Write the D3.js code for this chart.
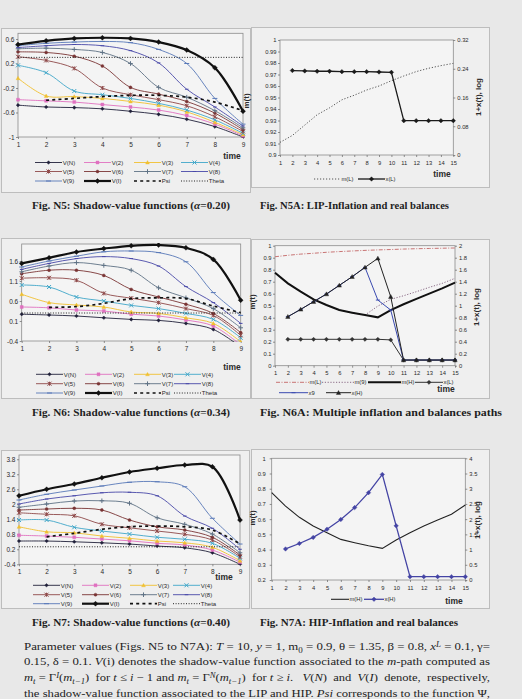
<!DOCTYPE html>
<html lang="en">
<head>
<meta charset="UTF-8">
<title>Shadow-value functions and inflation paths</title>
<script src="https://cdn.jsdelivr.net/npm/d3@7"></script>
<style>
  body { margin: 0; background: #e8e8e8; }
  svg { display: block; }
</style>
</head>
<body>
<svg id="page" width="522" height="699"></svg>
<script>
// ---------- data ----------
const times9 = [1, 2, 3, 4, 5, 6, 7, 8, 9];
const times15 = [1, 2, 3, 4, 5, 6, 7, 8, 9, 10, 11, 12, 13, 14, 15];
const svNames = ["V(N)", "V(2)", "V(3)", "V(4)", "V(5)", "V(6)", "V(7)", "V(8)", "V(9)", "V(I)"];

// Fig. N5 (alpha = 0.20), one row per svNames entry
const n5Series = [
  [-0.48, -0.51, -0.52, -0.54, -0.58, -0.63, -0.71, -0.83, -1.0],
  [-0.39, -0.41, -0.43, -0.47, -0.51, -0.56, -0.65, -0.79, -0.98],
  [-0.04, -0.33, -0.34, -0.37, -0.42, -0.48, -0.59, -0.76, -0.96],
  [0.17, 0.05, -0.25, -0.31, -0.37, -0.45, -0.56, -0.72, -0.94],
  [0.31, 0.25, 0.12, -0.2, -0.31, -0.39, -0.49, -0.67, -0.91],
  [0.39, 0.38, 0.32, 0.16, -0.19, -0.3, -0.42, -0.61, -0.88],
  [0.44, 0.45, 0.43, 0.38, 0.2, -0.19, -0.35, -0.57, -0.85],
  [0.46, 0.49, 0.51, 0.49, 0.41, 0.21, -0.22, -0.51, -0.82],
  [0.49, 0.53, 0.55, 0.56, 0.54, 0.43, 0.2, -0.37, -0.79],
  [0.51, 0.57, 0.61, 0.62, 0.61, 0.55, 0.42, 0.13, -0.58]
];
const n5Psi = [null, -0.40, -0.37, -0.34, -0.32, -0.32, -0.35, -0.43, -0.57];
const n5Theta = [0.3, 0.3, 0.3, 0.3, 0.3, 0.3, 0.3, 0.3, 0.3];
const n5Ticks = [-1, -0.6, -0.2, 0.2, 0.6];

// Fig. N6 (alpha = 0.34)
const n6Series = [
  [0.27, 0.25, 0.225, 0.18, 0.14, 0.115, 0.04, -0.11, -0.55],
  [0.45, 0.43, 0.375, 0.35, 0.27, 0.225, 0.125, -0.025, -0.5],
  [0.77, 0.56, 0.5, 0.45, 0.325, 0.29, 0.18, 0.04, -0.42],
  [1.0, 0.95, 0.7, 0.6, 0.49, 0.41, 0.29, 0.14, -0.32],
  [1.17, 1.18, 1.12, 0.79, 0.67, 0.56, 0.41, 0.24, -0.26],
  [1.28, 1.37, 1.37, 1.24, 0.89, 0.7, 0.52, 0.29, -0.19],
  [1.33, 1.475, 1.56, 1.49, 1.37, 0.93, 0.68, 0.41, -0.07],
  [1.39, 1.54, 1.66, 1.71, 1.66, 1.475, 0.96, 0.56, 0.04],
  [1.45, 1.6, 1.72, 1.83, 1.85, 1.81, 1.58, 0.81, 0.24],
  [1.54, 1.68, 1.825, 1.91, 1.98, 2.0, 1.93, 1.64, 0.62]
];
const n6Psi = [null, 0.44, 0.46, 0.54, 0.66, 0.68, 0.66, 0.475, 0.31];
const n6Theta = [0.3, 0.3, 0.3, 0.3, 0.3, 0.3, 0.3, 0.3, 0.3];
const n6Ticks = [-0.4, 0.1, 0.6, 1.1, 1.6];

// Fig. N7 (alpha = 0.40)
const n7Series = [
  [0.53, 0.53, 0.5, 0.46, 0.41, 0.33, 0.26, 0.06, -0.4],
  [0.76, 0.73, 0.68, 0.61, 0.54, 0.44, 0.37, 0.17, -0.32],
  [1.1, 0.9, 0.86, 0.73, 0.64, 0.53, 0.46, 0.28, -0.26],
  [1.37, 1.37, 1.08, 0.93, 0.81, 0.68, 0.6, 0.44, -0.16],
  [1.66, 1.6, 1.54, 1.2, 1.06, 0.93, 0.8, 0.57, -0.1],
  [1.77, 1.81, 1.84, 1.77, 1.37, 1.1, 0.97, 0.68, -0.03],
  [1.88, 2.01, 2.13, 2.14, 2.04, 1.46, 1.2, 0.81, 0.06],
  [2.01, 2.21, 2.34, 2.46, 2.48, 2.34, 1.53, 1.04, 0.2],
  [2.17, 2.4, 2.57, 2.73, 2.88, 2.9, 2.7, 1.44, 0.41],
  [2.34, 2.6, 2.81, 3.06, 3.29, 3.44, 3.57, 3.5, 1.37]
];
const n7Psi = [null, 0.7, 0.84, 1.0, 1.1, 1.13, 1.1, 0.97, 0.41];
const n7Theta = [0.3, 0.3, 0.3, 0.3, 0.3, 0.3, 0.3, 0.3, 0.3];
const n7Ticks = [-0.4, 0.2, 0.8, 1.4, 2, 2.6, 3.2, 3.8];

// Fig. N5A: LIP
const n5aML = [0.911, 0.917, 0.926, 0.935, 0.941, 0.948, 0.952, 0.9565, 0.960, 0.9646, 0.9687, 0.9725, 0.9754, 0.9777, 0.9797];
const n5aXL = [null, 0.235, 0.234, 0.233, 0.233, 0.232, 0.232, 0.232, 0.231, 0.230, 0.0955, 0.0955, 0.0955, 0.0955, 0.0955];
const n5aLeftTicks = [0.9, 0.91, 0.92, 0.93, 0.94, 0.95, 0.96, 0.97, 0.98, 0.99, 1];
const n5aRightTicks = [0, 0.08, 0.16, 0.24, 0.32];

// Fig. N6A: multiple paths
const n6aML = [0.908, 0.92, 0.93, 0.937, 0.945, 0.951, 0.956, 0.961, 0.965, 0.968, 0.972, 0.975, 0.977, 0.979, 0.981];
const n6aM9 = [0.775, 0.686, 0.617, 0.553, 0.506, 0.464, 0.442, 0.422, 0.497, 0.553, 0.583, 0.617, 0.653, 0.686, 0.728];
const n6aMH = [0.775, 0.686, 0.617, 0.553, 0.506, 0.464, 0.442, 0.422, 0.403, 0.464, 0.512, 0.557, 0.601, 0.644, 0.692];
const n6aXL = [null, 0.44, 0.44, 0.44, 0.44, 0.44, 0.44, 0.44, 0.44, 0.43, 0.094, 0.094, 0.094, 0.094, 0.094];
const n6aX9 = [null, 0.817, 0.939, 1.067, 1.194, 1.339, 1.483, 1.639, 1.094, 0.928, 0.094, 0.094, 0.094, 0.094, 0.094];
const n6aXH = [null, 0.817, 0.939, 1.067, 1.194, 1.339, 1.483, 1.639, 1.789, 1.15, 0.094, 0.094, 0.094, 0.094, 0.094];
const n6aLeftTicks = [0, 0.1, 0.2, 0.3, 0.4, 0.5, 0.6, 0.7, 0.8, 0.9, 1];
const n6aRightTicks = [0, 0.2, 0.4, 0.6, 0.8, 1, 1.2, 1.4, 1.6, 1.8, 2];

// Fig. N7A: HIP
const n7aMH = [0.774, 0.686, 0.612, 0.555, 0.511, 0.467, 0.445, 0.425, 0.408, 0.463, 0.511, 0.555, 0.594, 0.632, 0.693];
const n7aXH = [null, 1.02, 1.2, 1.4, 1.67, 1.99, 2.38, 2.87, 3.47, 1.78, 0.11, 0.11, 0.11, 0.11, 0.11];
const n7aLeftTicks = [0.2, 0.3, 0.4, 0.5, 0.6, 0.7, 0.8, 0.9, 1];
const n7aRightTicks = [0, 0.5, 1, 1.5, 2, 2.5, 3, 3.5, 4];

// ---------- drawing ----------
const svg = d3.select("#page");
const sans = "'Liberation Sans', Arial, sans-serif";
const serif = "'Liberation Serif', 'Times New Roman', serif";
const ink = "#2a2a2a";
let clipCount = 0;

svg.append("rect").attr("width", 522).attr("height", 699).attr("fill", "#e8e8e8");

function panel(x0, y0, x1, y1) {
  svg.append("rect")
    .attr("x", x0 + 0.5).attr("y", y0 + 0.5)
    .attr("width", x1 - x0).attr("height", y1 - y0)
    .attr("fill", "#efefef").attr("stroke", "#bdbdbd").attr("stroke-width", 1);
}

function markerPath(type, s) {
  const h = s / 2;
  if (type === "diamond") return `M0,${-h}L${h},0L0,${h}L${-h},0Z`;
  if (type === "square") return `M${-h},${-h}h${s}v${s}h${-s}Z`;
  if (type === "triangle") return `M0,${-h}L${h},${h * 0.8}L${-h},${h * 0.8}Z`;
  if (type === "x") return `M${-h},${-h}L${h},${h}M${-h},${h}L${h},${-h}`;
  if (type === "star") return `M${-h},${-h}L${h},${h}M${-h},${h}L${h},${-h}M0,${-h}V${h}`;
  if (type === "plus") return `M${-h},0H${h}M0,${-h}V${h}`;
  if (type === "dash") return `M${-h},0H${h}`;
  return d3.symbol(d3.symbolCircle, s * s * 0.8)();
}
const filledMarkers = ["diamond", "square", "triangle", "circle"];

function drawMarker(g, type, s, color, cx, cy) {
  const filled = filledMarkers.includes(type);
  g.append("path")
    .attr("d", markerPath(type, s))
    .attr("transform", `translate(${cx},${cy})`)
    .attr("fill", filled ? color : "none")
    .attr("stroke", color)
    .attr("stroke-width", filled ? 0.4 : 1);
}

function styleAxis(g, size) {
  g.select(".domain").remove();
  g.selectAll(".tick line").attr("stroke", "#666").attr("stroke-width", 0.7);
  g.selectAll(".tick text").attr("fill", ink).attr("font-family", sans).attr("font-size", size);
}

function clipRect(x0, y0, x1, y1) {
  const id = "clip" + (clipCount++);
  svg.append("clipPath").attr("id", id).append("rect")
    .attr("x", x0 - 3).attr("y", y0 - 1).attr("width", x1 - x0 + 6).attr("height", y1 - y0 + 2);
  return `url(#${id})`;
}

const svStyles = [
  { color: "#20203a", w: 0.9, m: "diamond", ms: 3.6 },
  { color: "#e070c0", w: 0.9, m: "square", ms: 3 },
  { color: "#f0c030", w: 0.9, m: "triangle", ms: 3.8 },
  { color: "#3fa6c8", w: 0.9, m: "x", ms: 4 },
  { color: "#8e4848", w: 0.9, m: "star", ms: 4 },
  { color: "#7a3434", w: 0.9, m: "circle", ms: 3 },
  { color: "#5f7285", w: 0.9, m: "plus", ms: 4.6 },
  { color: "#4848a8", w: 0.9, m: "dash", ms: 3.6 },
  { color: "#5878b8", w: 0.9, m: "dash", ms: 5 },
  { color: "#111111", w: 2.2, m: "diamond", ms: 5 }
];

function svChart(c) {
  const g = svg.append("g");
  const x = d3.scaleLinear().domain([1, 9]).range([c.x0, c.x1]);
  const y = d3.scaleLinear().domain(c.domain).range([c.y1, c.y0]);

  g.append("rect").attr("x", c.x0).attr("y", c.y0)
    .attr("width", c.x1 - c.x0).attr("height", c.y1 - c.y0)
    .attr("fill", "#f4f4f4").attr("stroke", "#8c8c8c").attr("stroke-width", 0.8);

  const ax = g.append("g").attr("transform", `translate(0,${c.y1})`)
    .call(d3.axisBottom(x).tickValues(times9).tickSize(2).tickPadding(c.xPad).tickFormat(d => d));
  styleAxis(ax, 6.5);
  const ay = g.append("g").attr("transform", `translate(${c.x0},0)`)
    .call(d3.axisLeft(y).tickValues(c.ticks).tickSize(2).tickPadding(1.5).tickFormat(d => String(d)));
  styleAxis(ay, 6.5);

  const clip = clipRect(c.x0, c.y0, c.x1, c.y1);
  const plot = g.append("g").attr("clip-path", clip);
  const smooth = d3.line().defined(d => d[1] != null)
    .x(d => x(d[0])).y(d => y(d[1])).curve(d3.curveCatmullRom.alpha(0.5));

  c.series.forEach((vals, i) => {
    const st = svStyles[i];
    const pts = times9.map((t, k) => [t, vals[k]]);
    plot.append("path").attr("d", smooth(pts)).attr("fill", "none")
      .attr("stroke", st.color).attr("stroke-width", st.w);
    pts.forEach(p => drawMarker(plot, st.m, st.ms, st.color, x(p[0]), y(p[1])));
  });
  const psiPts = times9.map((t, k) => [t, c.psi[k]]);
  plot.append("path").attr("d", smooth(psiPts)).attr("fill", "none")
    .attr("stroke", "#111").attr("stroke-width", 1.7).attr("stroke-dasharray", "3,3.2");
  const thPts = times9.map((t, k) => [t, c.theta[k]]);
  plot.append("path").attr("d", d3.line().x(d => x(d[0])).y(d => y(d[1]))(thPts))
    .attr("fill", "none").attr("stroke", "#222").attr("stroke-width", 1).attr("stroke-dasharray", "1,1.6");

  g.append("text").attr("x", c.timeX).attr("y", c.timeY).attr("text-anchor", "middle")
    .attr("font-family", sans).attr("font-weight", "bold").attr("font-size", 8.5).attr("fill", ink).text("time");

  // legend 3 x 4
  const items = svNames.map((n, i) => ({ name: n, i }));
  items.push({ name: "Psi", i: "psi" }, { name: "Theta", i: "theta" });
  items.forEach((it, k) => {
    const lx = c.legCols[k % 4], ly = c.legRows[Math.floor(k / 4)];
    const len = 27;
    if (it.i === "psi") {
      g.append("line").attr("x1", lx).attr("x2", lx + len).attr("y1", ly).attr("y2", ly)
        .attr("stroke", "#111").attr("stroke-width", 1.7).attr("stroke-dasharray", "3,3.2");
    } else if (it.i === "theta") {
      g.append("line").attr("x1", lx).attr("x2", lx + len).attr("y1", ly).attr("y2", ly)
        .attr("stroke", "#222").attr("stroke-width", 1).attr("stroke-dasharray", "1,1.6");
    } else {
      const st = svStyles[it.i];
      g.append("line").attr("x1", lx).attr("x2", lx + len).attr("y1", ly).attr("y2", ly)
        .attr("stroke", st.color).attr("stroke-width", st.w);
      drawMarker(g, st.m, st.ms, st.color, lx + len / 2, ly);
    }
    g.append("text").attr("x", lx + len + 0.8).attr("y", ly + 2.2)
      .attr("font-family", sans).attr("font-size", 6).attr("fill", ink).text(it.name);
  });
}

function dualChart(c) {
  const g = svg.append("g");
  const x = d3.scaleLinear().domain([1, 15]).range([c.x0, c.x1]);
  const yL = d3.scaleLinear().domain(c.leftDomain).range([c.y1, c.y0]);
  const yR = d3.scaleLinear().domain(c.rightDomain).range([c.y1, c.y0]);

  g.append("rect").attr("x", c.x0).attr("y", c.y0)
    .attr("width", c.x1 - c.x0).attr("height", c.y1 - c.y0)
    .attr("fill", "#f4f4f4").attr("stroke", "#8c8c8c").attr("stroke-width", 0.8);

  const ax = g.append("g").attr("transform", `translate(0,${c.y1})`)
    .call(d3.axisBottom(x).tickValues(times15).tickSize(2).tickPadding(c.xPad).tickFormat(d => d));
  styleAxis(ax, 5.8);
  const ayl = g.append("g").attr("transform", `translate(${c.x0},0)`)
    .call(d3.axisLeft(yL).tickValues(c.leftTicks).tickSize(2).tickPadding(c.lPad).tickFormat(d => String(+d.toFixed(2))));
  styleAxis(ayl, 5.8);
  const ayr = g.append("g").attr("transform", `translate(${c.x1},0)`)
    .call(d3.axisRight(yR).tickValues(c.rightTicks).tickSize(2).tickPadding(2).tickFormat(d => String(+d.toFixed(2))));
  styleAxis(ayr, 5.8);

  const clip = clipRect(c.x0, c.y0, c.x1, c.y1);
  const plot = g.append("g").attr("clip-path", clip);
  c.series.forEach(s => {
    const sc = s.axis === "L" ? yL : yR;
    const pts = times15.map((t, k) => [t, s.vals[k]]);
    const line = d3.line().defined(d => d[1] != null).x(d => x(d[0])).y(d => sc(d[1]));
    plot.append("path").attr("d", line(pts)).attr("fill", "none")
      .attr("stroke", s.color).attr("stroke-width", s.w)
      .attr("stroke-dasharray", s.dash || null);
    if (s.m) pts.filter(p => p[1] != null)
      .forEach(p => drawMarker(plot, s.m, s.ms, s.mColor || s.color, x(p[0]), sc(p[1])));
  });

  g.append("text").attr("transform", `translate(${c.mtX},${c.mtY}) rotate(-90)`)
    .attr("text-anchor", "middle").attr("font-family", sans).attr("font-weight", "bold")
    .attr("font-size", 8).attr("fill", ink).text("m(t)");
  g.append("text").attr("transform", `translate(${c.rtX},${c.rtY}) rotate(-90)`)
    .attr("text-anchor", "middle").attr("font-family", sans).attr("font-weight", "bold")
    .attr("font-size", 8).attr("fill", ink).text("1+x(t), log");
  g.append("text").attr("x", c.timeX).attr("y", c.timeY).attr("text-anchor", "middle")
    .attr("font-family", sans).attr("font-weight", "bold").attr("font-size", 8.5).attr("fill", ink).text("time");

  c.legend.forEach(it => {
    const s = c.series[it.s];
    g.append("line").attr("x1", it.x).attr("x2", it.x + it.len).attr("y1", it.y).attr("y2", it.y)
      .attr("stroke", s.color).attr("stroke-width", s.w).attr("stroke-dasharray", s.dash || null);
    if (s.m) drawMarker(g, s.m, s.ms, s.mColor || s.color, it.x + it.len / 2, it.y);
    g.append("text").attr("x", it.x + it.len + 0.5).attr("y", it.y + 2)
      .attr("font-family", sans).attr("font-size", 5.8).attr("fill", ink).text(s.name);
  });
}

// panels
panel(1, 28, 250, 192);
panel(251, 27, 489, 187);
panel(1, 238, 250, 398);
panel(251, 239, 489, 398);
panel(1, 450, 249, 608);
panel(251, 449, 489, 608);

svChart({
  x0: 18, x1: 243, y0: 33.3, y1: 137, domain: [-1, 0.693], ticks: n5Ticks,
  series: n5Series, psi: n5Psi, theta: n5Theta, xPad: 3.5,
  timeX: 232, timeY: 159, legCols: [35, 84, 134, 181], legRows: [162.5, 171.5, 181]
});
svChart({
  x0: 21.7, x1: 240.7, y0: 244, y1: 341, domain: [-0.4, 2.025], ticks: n6Ticks,
  series: n6Series, psi: n6Psi, theta: n6Theta, xPad: 3.5,
  timeX: 232, timeY: 369.5, legCols: [36, 85, 134, 174], legRows: [374.3, 383.7, 393]
});
svChart({
  x0: 19, x1: 240, y0: 455, y1: 564.3, domain: [-0.4, 3.97], ticks: n7Ticks,
  series: n7Series, psi: n7Psi, theta: n7Theta, xPad: 3.5,
  timeX: 224, timeY: 580, legCols: [33, 82, 130, 173], legRows: [585.3, 594.7, 603.7]
});

dualChart({
  x0: 280, x1: 453.3, y0: 40, y1: 155, leftDomain: [0.9, 1], rightDomain: [0, 0.32],
  leftTicks: n5aLeftTicks, rightTicks: n5aRightTicks, xPad: 4, lPad: 1.5,
  mtX: 249, mtY: 101, rtX: 481, rtY: 97, timeX: 442, timeY: 177,
  series: [
    { name: "m(L)", vals: n5aML, axis: "L", color: "#555", w: 1, dash: "1.2,1.8" },
    { name: "x(L)", vals: n5aXL, axis: "R", color: "#1a1a1a", w: 1.3, m: "diamond", ms: 4.5 }
  ],
  legend: [{ s: 0, x: 314, y: 179, len: 27 }, { s: 1, x: 358, y: 179, len: 27 }]
});
dualChart({
  x0: 275, x1: 455, y0: 245.7, y1: 365.7, leftDomain: [0, 1], rightDomain: [0, 2],
  leftTicks: n6aLeftTicks, rightTicks: n6aRightTicks, xPad: 3.5, lPad: 1.5,
  mtX: 255, mtY: 302, rtX: 479, rtY: 307, timeX: 446, timeY: 392,
  series: [
    { name: "m(L)", vals: n6aML, axis: "L", color: "#c87474", w: 1, dash: "4,1.5,1,1.5" },
    { name: "m(9)", vals: n6aM9, axis: "L", color: "#8a6a86", w: 1, dash: "1.2,1.6" },
    { name: "m(H)", vals: n6aMH, axis: "L", color: "#111", w: 2 },
    { name: "x(L)", vals: n6aXL, axis: "R", color: "#333", w: 1, m: "diamond", ms: 4.2 },
    { name: "x9", vals: n6aX9, axis: "R", color: "#3a4ab0", w: 1, m: "dash", ms: 4 },
    { name: "x(H)", vals: n6aXH, axis: "R", color: "#222", w: 1, m: "triangle", ms: 4.4 }
  ],
  legend: [
    { s: 0, x: 276, y: 382.3, len: 33 }, { s: 1, x: 322, y: 382.3, len: 32 },
    { s: 2, x: 368, y: 382.3, len: 33 }, { s: 3, x: 415, y: 382.3, len: 28 },
    { s: 4, x: 279, y: 392.7, len: 29 }, { s: 5, x: 326, y: 392.7, len: 25 }
  ]
});
dualChart({
  x0: 271.7, x1: 465.3, y0: 458.3, y1: 580, leftDomain: [0.2, 1], rightDomain: [0, 4],
  leftTicks: n7aLeftTicks, rightTicks: n7aRightTicks, xPad: 4, lPad: 4,
  mtX: 255, mtY: 518, rtX: 480, rtY: 520, timeX: 454, timeY: 603.5,
  series: [
    { name: "m(H)", vals: n7aMH, axis: "L", color: "#222", w: 1.1 },
    { name: "x(H)", vals: n7aXH, axis: "R", color: "#4444a4", w: 1.3, m: "diamond", ms: 4.5 }
  ],
  legend: [{ s: 0, x: 331, y: 599.3, len: 18 }, { s: 1, x: 364, y: 599.3, len: 20 }]
});

// ---------- captions and text ----------
function richLine(x, y, width, size, weight, parts) {
  const t = svg.append("text").attr("x", x).attr("y", y)
    .attr("font-family", serif).attr("font-size", size).attr("font-weight", weight)
    .attr("fill", "#1e1e1e").attr("textLength", width).attr("lengthAdjust", "spacingAndGlyphs")
    .attr("xml:space", "preserve");
  parts.forEach(p => {
    if (typeof p === "string") { t.append("tspan").text(p); return; }
    const sp = t.append("tspan").text(p.t);
    if (p.i) sp.attr("font-style", "italic");
    if (p.sub) sp.attr("baseline-shift", "-2.5").attr("font-size", size * 0.7);
    if (p.sup) sp.attr("baseline-shift", "3.5").attr("font-size", size * 0.7);
  });
}

richLine(32, 208.5, 198, 11, "bold", ["Fig. N5: Shadow-value functions (", { t: "α", i: 1 }, "=0.20)"]);
richLine(260, 208.5, 189, 11, "bold", ["Fig. N5A: LIP-Inflation and real balances"]);
richLine(32, 415.5, 198, 11, "bold", ["Fig. N6: Shadow-value functions (", { t: "α", i: 1 }, "=0.34)"]);
richLine(260, 415.5, 242, 11, "bold", ["Fig. N6A: Multiple inflation and balances paths"]);
richLine(32, 625.5, 198, 11, "bold", ["Fig. N7: Shadow-value functions (", { t: "α", i: 1 }, "=0.40)"]);
richLine(260, 625.5, 198, 11, "bold", ["Fig. N7A: HIP-Inflation and real balances"]);

richLine(24, 649.5, 466, 11, "normal", [
  "Parameter values (Figs. N5 to N7A): ", { t: "T", i: 1 }, " = 10, ", { t: "y", i: 1 }, " = 1, m",
  { t: "0", sub: 1 }, " = 0.9, θ = 1.35, β = 0.8, ", { t: "x", i: 1 }, { t: "L", i: 1, sup: 1 }, " = 0.1, γ="
]);
richLine(24, 665, 466, 11, "normal", [
  "0.15, δ = 0.1. ", { t: "V", i: 1 }, "(i) denotes the shadow-value function associated to the ",
  { t: "m", i: 1 }, "-path computed as"
]);
richLine(24, 680.5, 466, 11, "normal", [
  { t: "m", i: 1 }, { t: "t", i: 1, sub: 1 }, " = Γ", { t: "I", i: 1, sup: 1 }, "(", { t: "m", i: 1 },
  { t: "t−1", i: 1, sub: 1 }, ")  for ", { t: "t", i: 1 }, " ≤ ", { t: "i", i: 1 }, " − 1 and ",
  { t: "m", i: 1 }, { t: "t", i: 1, sub: 1 }, " = Γ", { t: "N", i: 1, sup: 1 }, "(", { t: "m", i: 1 },
  { t: "t−1", i: 1, sub: 1 }, ")  for ", { t: "t", i: 1 }, " ≥ ", { t: "i", i: 1 }, ".   ",
  { t: "V", i: 1 }, "(", { t: "N", i: 1 }, ")  and  ", { t: "V", i: 1 }, "(", { t: "I", i: 1 },
  ")  denote,  respectively,"
]);
richLine(24, 697, 466, 11, "normal", [
  "the shadow-value function associated to the LIP and HIP. ", { t: "Psi", i: 1 },
  " corresponds to the function Ψ,"
]);
</script>
</body>
</html>
